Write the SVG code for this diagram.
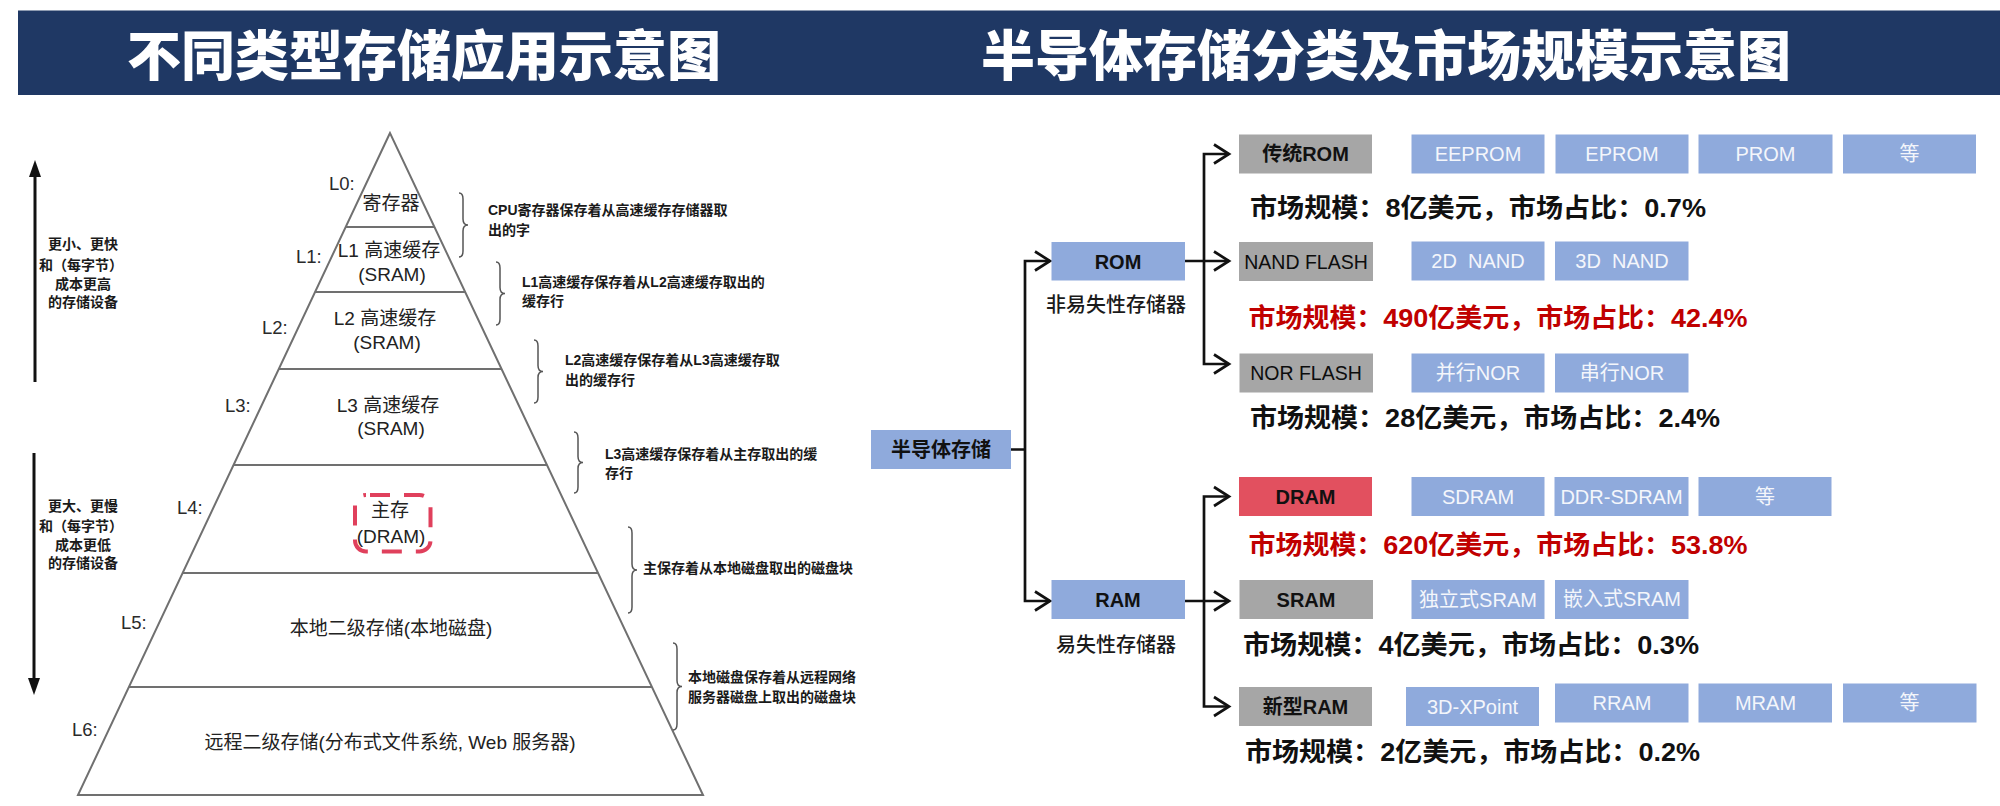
<svg xmlns="http://www.w3.org/2000/svg" width="2000" height="806" viewBox="0 0 2000 806">
<defs>
<style>
.title{font-family:"Noto Sans CJK SC",sans-serif;font-weight:900;font-size:54px;fill:#fff;text-anchor:middle;dominant-baseline:central}
.pl{stroke:#707070;stroke-width:2;fill:none}
.lvl{font-family:"Liberation Sans","Noto Sans CJK SC",sans-serif;font-size:18.5px;fill:#2a2a2a;dominant-baseline:central}
.pt{font-family:"Liberation Sans","Noto Sans CJK SC",sans-serif;font-size:19px;fill:#222;text-anchor:middle;dominant-baseline:central}
.note{font-family:"Liberation Sans","Noto Sans CJK SC",sans-serif;font-weight:bold;font-size:14px;fill:#1a1a1a;dominant-baseline:central}
.side{font-family:"Noto Sans CJK SC",sans-serif;font-weight:bold;font-size:14px;fill:#1a1a1a;text-anchor:middle;dominant-baseline:central}
.brace{stroke:#555;stroke-width:1.5;fill:none}
.blue{fill:#8faadc}
.gray{fill:#a6a6a6}
.red{fill:#e2505f}
.bt{font-family:"Liberation Sans","Noto Sans CJK SC",sans-serif;font-weight:bold;font-size:20px;fill:#111;text-anchor:middle;dominant-baseline:central}
.nt{font-family:"Liberation Sans","Noto Sans CJK SC",sans-serif;font-size:19.5px;fill:#0d0d0d;text-anchor:middle;dominant-baseline:central}
.st{font-family:"Liberation Sans","Noto Sans CJK SC",sans-serif;font-size:20px;fill:#f4f6fb;text-anchor:middle;dominant-baseline:central}
.cap{font-family:"Noto Sans CJK SC",sans-serif;font-weight:500;font-size:20px;fill:#1a1a1a;text-anchor:middle;dominant-baseline:central}
.mk{font-family:"Liberation Sans","Noto Sans CJK SC",sans-serif;font-weight:bold;font-size:26px;fill:#111;dominant-baseline:central}
.mkr{fill:#c00000}
.conn{stroke:#111;stroke-width:2.7;fill:none}
</style>
</defs>
<rect width="2000" height="806" fill="#fff"/>
<g id="header">
<rect x="18" y="10.5" width="1982" height="84.5" fill="#1f3864"/>
<text class="title" x="424" y="52">不同类型存储应用示意图</text>
<text class="title" x="1386" y="52">半导体存储分类及市场规模示意图</text>
</g>

<g id="pyramid">
<polygon class="pl" points="390,133 78,795 703,795"/>
<line class="pl" x1="345.7" y1="227" x2="434.4" y2="227"/>
<line class="pl" x1="315.1" y1="292" x2="465.2" y2="292"/>
<line class="pl" x1="278.8" y1="369" x2="501.6" y2="369"/>
<line class="pl" x1="233.5" y1="465" x2="547" y2="465"/>
<line class="pl" x1="182.6" y1="573" x2="598" y2="573"/>
<line class="pl" x1="128.9" y1="687" x2="651.9" y2="687"/>
</g>
<g id="levels">
<text class="lvl" x="329" y="183">L0:</text>
<text class="lvl" x="296" y="256">L1:</text>
<text class="lvl" x="262" y="327">L2:</text>
<text class="lvl" x="225" y="405">L3:</text>
<text class="lvl" x="177" y="507">L4:</text>
<text class="lvl" x="121" y="622">L5:</text>
<text class="lvl" x="72" y="729">L6:</text>
</g>
<g id="L0"><text class="pt" x="391" y="203">寄存器</text></g>
<g id="L1"><text class="pt" x="389" y="250">L1 高速缓存</text><text class="pt" x="392" y="274">(SRAM)</text></g>
<g id="L2"><text class="pt" x="385" y="318">L2 高速缓存</text><text class="pt" x="387" y="342">(SRAM)</text></g>
<g id="L3"><text class="pt" x="388" y="405">L3 高速缓存</text><text class="pt" x="391" y="428">(SRAM)</text></g>
<g id="L4">
<rect x="355" y="495" width="75.5" height="56.5" rx="11" fill="none" stroke="#e0405c" stroke-width="4" stroke-dasharray="20 14" stroke-dashoffset="-4"/>
<text class="pt" x="390" y="510">主存</text><text class="pt" x="391" y="536">(DRAM)</text>
</g>
<g id="L5"><text class="pt" x="391" y="628">本地二级存储(本地磁盘)</text></g>
<g id="L6"><text class="pt" x="390" y="742">远程二级存储(分布式文件系统, Web 服务器)</text></g>

<g id="side-arrows">
<line x1="35" y1="382" x2="35" y2="172" stroke="#111" stroke-width="3"/>
<polygon points="35,160 29,177 41,177" fill="#111"/>
<line x1="34" y1="453" x2="34" y2="682" stroke="#111" stroke-width="3"/>
<polygon points="34,695 28,678 40,678" fill="#111"/>
</g>
<g id="side-top">
<text class="side" x="83" y="243">更小、更快</text>
<text class="side" x="81" y="264">和（每字节）</text>
<text class="side" x="83" y="283">成本更高</text>
<text class="side" x="83" y="301">的存储设备</text>
</g>
<g id="side-bottom">
<text class="side" x="83" y="505">更大、更慢</text>
<text class="side" x="81" y="525">和（每字节）</text>
<text class="side" x="83" y="544">成本更低</text>
<text class="side" x="83" y="562">的存储设备</text>
</g>

<g id="notes">
<path class="brace" d="M459,193 Q463,193 463,199 L463,219 Q463,225 468,225 Q463,225 463,231 L463,251 Q463,257 459,257"/>
<text class="note" x="488" y="210">CPU寄存器保存着从高速缓存存储器取</text>
<text class="note" x="488" y="230">出的字</text>
<path class="brace" d="M496,262 Q500,262 500,268 L500,287.5 Q500,293.5 505,293.5 Q500,293.5 500,299.5 L500,319 Q500,325 496,325"/>
<text class="note" x="522" y="282">L1高速缓存保存着从L2高速缓存取出的</text>
<text class="note" x="522" y="301">缓存行</text>
<path class="brace" d="M534,340 Q538,340 538,346 L538,365.5 Q538,371.5 543,371.5 Q538,371.5 538,377.5 L538,397 Q538,403 534,403"/>
<text class="note" x="565" y="360">L2高速缓存保存着从L3高速缓存取</text>
<text class="note" x="565" y="380">出的缓存行</text>
<path class="brace" d="M574,432 Q578,432 578,438 L578,456.5 Q578,462.5 583,462.5 Q578,462.5 578,468.5 L578,487 Q578,493 574,493"/>
<text class="note" x="605" y="454">L3高速缓存保存着从主存取出的缓</text>
<text class="note" x="605" y="473">存行</text>
<path class="brace" d="M628,527 Q632,527 632,533 L632,564 Q632,570 637,570 Q632,570 632,576 L632,607 Q632,613 628,613"/>
<text class="note" x="643" y="568">主保存着从本地磁盘取出的磁盘块</text>
<path class="brace" d="M673,643 Q677,643 677,649 L677,680.5 Q677,686.5 682,686.5 Q677,686.5 677,692.5 L677,724 Q677,730 673,730"/>
<text class="note" x="688" y="677">本地磁盘保存着从远程网络</text>
<text class="note" x="688" y="697">服务器磁盘上取出的磁盘块</text>
</g>

<g id="connectors">
<path class="conn" d="M1011,449.5 H1025 M1050,261 H1025 V601 H1050"/>
<path class="conn" d="M1035,251.5 L1050,261 L1035,270.5 M1035,591.5 L1050,601 L1035,610.5"/>
<path class="conn" d="M1185,261 H1229 M1229,154 H1204 V364 H1229"/>
<path class="conn" d="M1214,144.5 L1229,154 L1214,163.5 M1214,251.5 L1229,261 L1214,270.5 M1214,354.5 L1229,364 L1214,373.5"/>
<path class="conn" d="M1185,601 H1229 M1229,496.5 H1204 V706.5 H1229"/>
<path class="conn" d="M1214,487 L1229,496.5 L1214,506 M1214,591.5 L1229,601 L1214,610.5 M1214,697 L1229,706.5 L1214,716"/>
</g>

<g id="semi"><rect class="blue" x="871" y="430" width="140" height="39"/><text class="bt" x="941" y="449.5">半导体存储</text></g>
<g id="rom"><rect class="blue" x="1051.5" y="242" width="133.5" height="38.5"/><text class="bt" x="1118" y="261.5">ROM</text><text class="cap" x="1116" y="303">非易失性存储器</text></g>
<g id="ram"><rect class="blue" x="1051.5" y="580" width="133.5" height="39"/><text class="bt" x="1118" y="600">RAM</text><text class="cap" x="1116" y="643">易失性存储器</text></g>

<g id="trad-rom">
<rect class="gray" x="1239" y="134.5" width="133" height="39"/><text class="bt" x="1305.5" y="154">传统ROM</text>
<rect class="blue" x="1411.5" y="134.5" width="133" height="39"/><text class="st" x="1478" y="154">EEPROM</text>
<rect class="blue" x="1555.5" y="134.5" width="133" height="39"/><text class="st" x="1622" y="154">EPROM</text>
<rect class="blue" x="1698.5" y="134.5" width="134" height="39"/><text class="st" x="1765.5" y="154">PROM</text>
<rect class="blue" x="1843" y="134.5" width="133" height="39"/><text class="st" x="1909.5" y="154">等</text>
<text class="mk" x="1250" y="208" textLength="456" lengthAdjust="spacingAndGlyphs">市场规模：8亿美元，市场占比：0.7%</text>
</g>
<g id="nand">
<rect class="gray" x="1239" y="242" width="134" height="39"/><text class="nt" x="1306" y="261.5">NAND FLASH</text>
<rect class="blue" x="1411.5" y="241.5" width="133" height="39"/><text class="st" x="1478" y="261" xml:space="preserve">2D  NAND</text>
<rect class="blue" x="1555" y="241.5" width="133.5" height="39"/><text class="st" x="1622" y="261" xml:space="preserve">3D  NAND</text>
<text class="mk mkr" x="1248.5" y="318" textLength="499" lengthAdjust="spacingAndGlyphs">市场规模：490亿美元，市场占比：42.4%</text>
</g>
<g id="nor">
<rect class="gray" x="1239.5" y="353.5" width="133.5" height="39"/><text class="nt" x="1306" y="373">NOR FLASH</text>
<rect class="blue" x="1411.5" y="353.5" width="133" height="39"/><text class="st" x="1478" y="373">并行NOR</text>
<rect class="blue" x="1555" y="353.5" width="133.5" height="39"/><text class="st" x="1622" y="373">串行NOR</text>
<text class="mk" x="1250" y="418" textLength="470" lengthAdjust="spacingAndGlyphs">市场规模：28亿美元，市场占比：2.4%</text>
</g>
<g id="dram">
<rect class="red" x="1239" y="477" width="133" height="39"/><text class="bt" x="1305.5" y="496.5">DRAM</text>
<rect class="blue" x="1411.5" y="477" width="133" height="39"/><text class="st" x="1478" y="496.5">SDRAM</text>
<rect class="blue" x="1554.5" y="477" width="134" height="39"/><text class="st" x="1621.5" y="496.5">DDR-SDRAM</text>
<rect class="blue" x="1698.5" y="477" width="133" height="39"/><text class="st" x="1765" y="496.5">等</text>
<text class="mk mkr" x="1248.5" y="545" textLength="499" lengthAdjust="spacingAndGlyphs">市场规模：620亿美元，市场占比：53.8%</text>
</g>
<g id="sram">
<rect class="gray" x="1239.5" y="580" width="133.5" height="39"/><text class="bt" x="1306" y="600">SRAM</text>
<rect class="blue" x="1411.5" y="580" width="133" height="39"/><text class="st" x="1478" y="600">独立式SRAM</text>
<rect class="blue" x="1555" y="580" width="133.5" height="39"/><text class="st" x="1622" y="599">嵌入式SRAM</text>
<text class="mk" x="1243" y="645" textLength="456" lengthAdjust="spacingAndGlyphs">市场规模：4亿美元，市场占比：0.3%</text>
</g>
<g id="new-ram">
<rect class="gray" x="1239" y="687" width="133" height="39"/><text class="bt" x="1305.5" y="706.5">新型RAM</text>
<rect class="blue" x="1406" y="687" width="133" height="39"/><text class="st" x="1472.5" y="706.5">3D-XPoint</text>
<rect class="blue" x="1555" y="683.5" width="133.5" height="39"/><text class="st" x="1622" y="703">RRAM</text>
<rect class="blue" x="1698.5" y="683.5" width="133.5" height="39"/><text class="st" x="1765.5" y="703">MRAM</text>
<rect class="blue" x="1843" y="683.5" width="133.5" height="39"/><text class="st" x="1909.5" y="703">等</text>
<text class="mk" x="1245" y="752" textLength="455" lengthAdjust="spacingAndGlyphs">市场规模：2亿美元，市场占比：0.2%</text>
</g>
</svg>
